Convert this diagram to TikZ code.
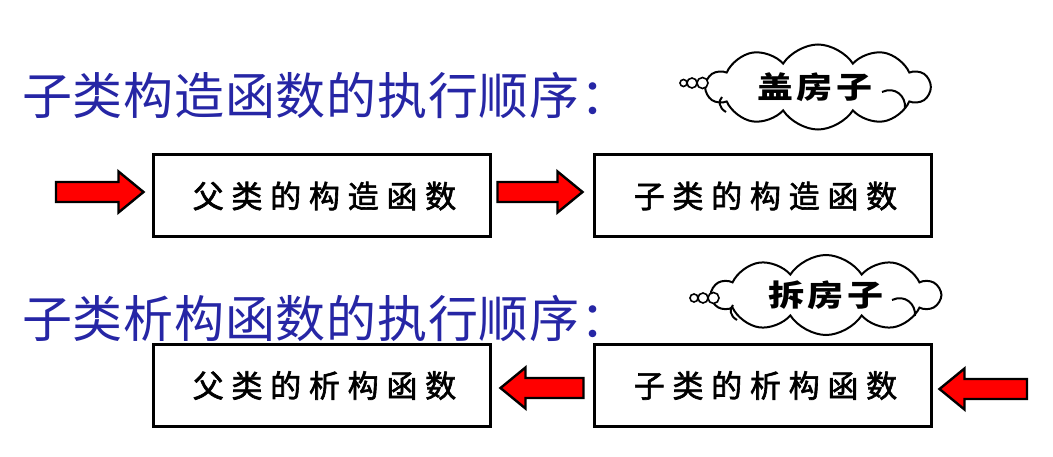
\documentclass[tikz,border=0pt]{standalone}
\usepackage{fontspec}
\usetikzlibrary{shapes.symbols,calc}

\newfontfamily\cjktitle[LetterSpace=1.5]{Noto Sans CJK SC}
\newfontfamily\cjkbox[LetterSpace=25,FakeBold=2]{Noto Sans CJK SC}
\newfontfamily\cjkcloud[LetterSpace=13,FakeStretch=1.2]{Noto Sans CJK SC}
\definecolor{titleblue}{RGB}{38,38,165}
\definecolor{arrowred}{RGB}{255,0,0}

\tikzset{
  headline/.style={anchor=west,inner sep=0pt,text=titleblue,font=\cjktitle\fontsize{50}{50}\selectfont},
  funcbox/.style={draw,line width=3pt,minimum width=337pt,minimum height=82pt,inner sep=0pt,font=\cjkbox\fontsize{31}{31}\selectfont},
  thought/.style={cloud,draw,fill=white,line width=2pt,cloud puffs=10,cloud puff arc=115,cloud ignores aspect,inner sep=0pt,font=\cjkcloud\bfseries\fontsize{30}{30}\selectfont},
  bubble/.style={circle,draw,fill=white,line width=1.6pt,inner sep=0pt},
  blockarrow/.style={draw,fill=arrowred,line width=2.4pt,line join=miter},
  curl/.style={line width=2pt}
}

% red block arrow from #1 (tail) to #2 (tip)
\newcommand{\redarrow}[2]{%
  \coordinate (hb) at ($(#2)!25pt!(#1)$);
  \draw[blockarrow] ($(#1)+(0,10)$) -- ($(hb)+(0,10)$) -- ($(hb)+(0,20.5)$) -- (#2)
    -- ($(hb)+(0,-20.5)$) -- ($(hb)+(0,-10)$) -- ($(#1)+(0,-10)$) -- cycle;}

\begin{document}
\begin{tikzpicture}[x=1pt,y=-1pt]
\useasboundingbox (0,0) rectangle (1053,457);

\node[headline] (t1) at (22,95) {子类构造函数的执行顺序：};
\node[headline] (t2) at (22,318) {子类析构函数的执行顺序：};

\node[funcbox] (pctor) at (321.5,196) {\hspace*{6pt}父类的构造函数};
\node[funcbox] (ctor) at (762.5,196) {\hspace*{6pt}子类的构造函数};
\node[funcbox] (pdtor) at (321.5,385.5) {\hspace*{6pt}父类的析构函数};
\node[funcbox] (dtor) at (762.5,385.5) {\hspace*{6pt}子类的析构函数};

\node[thought,minimum width=223pt,minimum height=85pt] (build) at (818,87) {盖房子\hspace*{6pt}};
\node[bubble,minimum size=11pt] (b1c) at (702.5,83) {};
\node[bubble,minimum size=10pt] (b1b) at (692,83) {};
\node[bubble,minimum size=7pt] (b1a) at (683.5,83) {};
\draw[curl] (726,112) .. controls (719,108) and (718,101) .. (722,97);
\draw[curl] (882,92) .. controls (895,86) and (906,96) .. (905,108);

\node[thought,minimum width=227pt,minimum height=80pt] (demolish) at (826,295) {拆房子};
\node[bubble,minimum size=11pt] (b2c) at (713.5,298) {};
\node[bubble,minimum size=10pt] (b2b) at (703,298) {};
\node[bubble,minimum size=8pt] (b2a) at (694,298) {};
\draw[curl] (737,320) .. controls (730,316) and (729,309) .. (733,305);
\draw[curl] (892,300) .. controls (905,294) and (916,304) .. (915,316);

\coordinate (start) at (56,192);
\coordinate (finish) at (1027,389);

\redarrow{start}{[xshift=-8pt,yshift=4pt]pctor.west}
\redarrow{[xshift=6pt,yshift=4pt]pctor.east}{[xshift=-10pt,yshift=4pt]ctor.west}
\redarrow{[xshift=-9pt,yshift=-2.5pt]dtor.west}{[xshift=9pt,yshift=-2.5pt]pdtor.east}
\redarrow{finish}{[xshift=7pt,yshift=-3.5pt]dtor.east}
\end{tikzpicture}
\end{document}
